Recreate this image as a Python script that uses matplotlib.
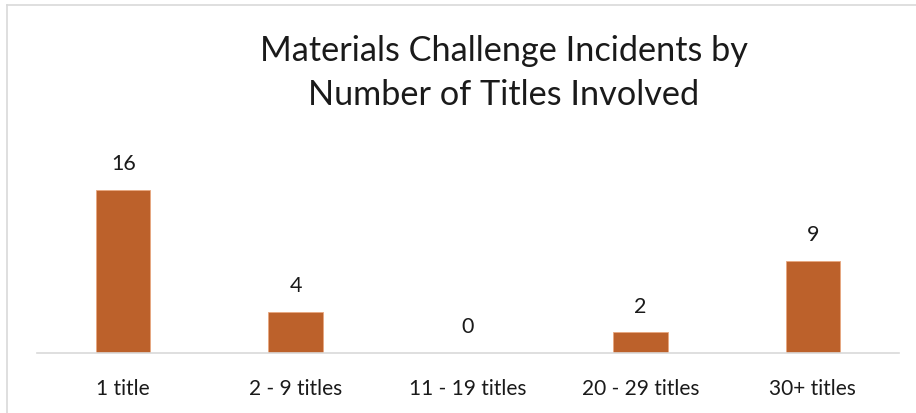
import matplotlib.pyplot as plt
from matplotlib.lines import Line2D

categories = ["1 title", "2 - 9 titles", "11 - 19 titles", "20 - 29 titles", "30+ titles"]
incidents = [16, 4, 0, 2, 9]

W, H = 916, 413
plt.rcParams['font.family'] = ['Lato', 'DejaVu Sans']

fig = plt.figure(figsize=(W / 100, H / 100), dpi=100)

# plot area in pixel terms: x 37..899, baseline at y=352.7
x0, x1 = 37, 899
base = 352.7
ymax = 18
px_per_unit = 10.17
top = base - ymax * px_per_unit
ax = fig.add_axes([x0 / W, (H - base) / H, (x1 - x0) / W, (base - top) / H])

x = range(len(categories))
bars = ax.bar(x, incidents, width=0.315, color='#BC612B', edgecolor='#E8A77F', linewidth=0.6)
ax.set_xlim(-0.5, len(categories) - 0.5)
ax.set_ylim(0, ymax)

for xi, v in zip(x, incidents):
    ax.text(xi, v + 1.55, str(v), ha='center', va='bottom', fontsize=15.5, color='#1a1a1a')

ax.set_xticks(list(x))
ax.set_xticklabels(categories, fontsize=15, color='#1a1a1a')
ax.tick_params(axis='x', length=0, pad=19)
ax.set_yticks([])
for side in ['top', 'right', 'left']:
    ax.spines[side].set_visible(False)
ax.spines['bottom'].set_color('#D9D9D9')
ax.spines['bottom'].set_linewidth(1.2)

fig.text(504 / W, 1 - 73 / H, "Materials Challenge Incidents by\nNumber of Titles Involved",
         ha='center', va='center', fontsize=24.7, color='#1a1a1a', linespacing=1.45)

# chart frame (top and left edges visible)
fig.add_artist(Line2D([7 / W, 1], [1 - 5 / H, 1 - 5 / H], color='#D9D9D9', linewidth=1.2))
fig.add_artist(Line2D([7 / W, 7 / W], [0, 1 - 5 / H], color='#D9D9D9', linewidth=1.2))

fig.savefig("out.png", dpi=100)
